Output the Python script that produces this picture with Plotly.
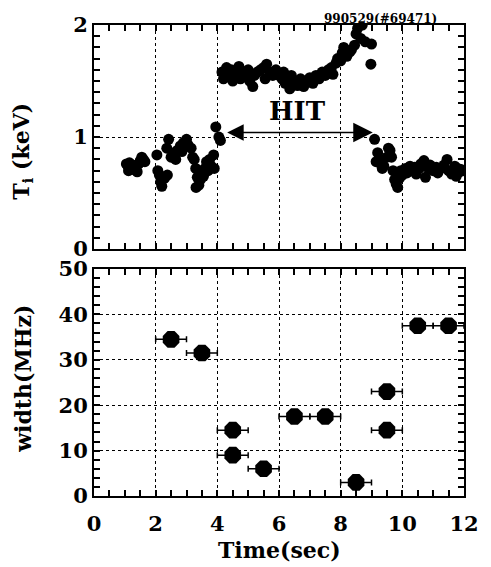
import plotly.graph_objects as go

# ---- Top panel: ion temperature T_i (keV) vs time (sec) ----
ti_time = [
    1.05, 1.10, 1.12, 1.15, 1.20, 1.25, 1.30, 1.35, 1.40, 1.45, 1.50, 1.55, 1.60, 1.65,
    2.04, 2.07, 2.12, 2.16, 2.20, 2.28, 2.38,
    2.42, 2.36, 2.50, 2.60, 2.65, 2.70, 2.80, 2.85, 2.90, 3.00, 3.05, 3.15, 3.20,
    3.25, 3.30, 3.31, 3.35, 3.40, 3.45, 3.50, 3.55, 3.60, 3.65, 3.70, 3.75, 3.80, 3.88, 3.90,
    3.95, 4.05, 4.10,
    4.15, 4.20, 4.30, 4.35, 4.45, 4.50, 4.60, 4.70, 4.75, 4.80, 4.90, 5.00, 5.05, 5.15, 5.20,
    5.30, 5.40, 5.50, 5.55, 5.60, 5.70, 5.80, 5.90, 6.00, 6.10, 6.15, 6.20, 6.30, 6.35, 6.40,
    6.50, 6.60, 6.70, 6.80, 6.90, 7.00, 7.10, 7.20, 7.30, 7.40, 7.50, 7.60, 7.70, 7.75, 7.85,
    7.90, 8.00, 8.05, 8.10, 8.20, 8.30, 8.35, 8.45, 8.50, 8.55, 8.65, 8.70, 8.80, 9.00, 8.98,
    9.10, 9.15, 9.20, 9.25, 9.30, 9.35, 9.40, 9.50, 9.55, 9.60, 9.65, 9.70, 9.75, 9.80, 9.85, 9.90,
    9.95, 10.00, 10.10, 10.15, 10.25, 10.30, 10.40, 10.45, 10.55, 10.60, 10.70, 10.75, 10.85,
    10.90, 11.00, 11.10, 11.15, 11.25, 11.35, 11.45, 11.50, 11.60, 11.70, 11.75, 11.80, 11.85,
    11.90, 11.95,
]
ti_kev = [
    0.76, 0.74, 0.70, 0.77, 0.72, 0.75, 0.71, 0.74, 0.69, 0.76, 0.79, 0.82, 0.80, 0.78,
    0.84, 0.70, 0.66, 0.60, 0.56, 0.63, 0.66,
    0.98, 0.90, 0.82, 0.86, 0.80, 0.88, 0.92, 0.87, 0.95, 0.98, 0.93, 0.90, 0.82,
    0.80, 0.72, 0.55, 0.64, 0.57, 0.62, 0.70, 0.65, 0.72, 0.78, 0.70, 0.80, 0.74, 0.84, 0.72,
    1.09, 1.00, 0.97,
    1.58, 1.52, 1.62, 1.55, 1.60, 1.50, 1.56, 1.63, 1.52, 1.58, 1.55, 1.60, 1.50, 1.45, 1.55,
    1.58, 1.60, 1.62, 1.52, 1.65, 1.58, 1.55, 1.60, 1.55, 1.52, 1.58, 1.48, 1.50, 1.43, 1.55,
    1.50, 1.46, 1.52, 1.45, 1.50, 1.53, 1.48, 1.55, 1.52, 1.58, 1.55, 1.60, 1.62, 1.56, 1.66,
    1.70, 1.68, 1.75, 1.80, 1.72, 1.76, 1.78, 1.82, 1.92, 1.97, 1.88, 2.00, 1.85, 1.83, 1.65,
    0.98, 0.78, 0.86, 0.80, 0.76, 0.72, 0.74, 0.82, 0.90, 0.88, 0.82, 0.70, 0.62, 0.58, 0.55, 0.63,
    0.70, 0.66, 0.72, 0.68, 0.74, 0.70, 0.73, 0.67, 0.72, 0.76, 0.79, 0.64, 0.72,
    0.75, 0.70, 0.73, 0.68, 0.72, 0.75, 0.80, 0.70, 0.67, 0.74, 0.65, 0.72, 0.69,
    0.71, 0.70,
]

# ---- Bottom panel: width (MHz) vs time (sec), with time-window error bars ----
w_time = [2.5, 3.5, 4.5, 4.5, 5.5, 6.5, 7.5, 8.5, 9.5, 9.5, 10.5, 11.5]
w_mhz = [34.5, 31.5, 14.5, 9.0, 6.0, 17.5, 17.5, 3.0, 23.0, 14.5, 37.5, 37.5]
w_dt = [0.5, 0.5, 0.5, 0.5, 0.5, 0.5, 0.5, 0.5, 0.5, 0.5, 0.5, 0.5]

x_ticks = [0, 2, 4, 6, 8, 10, 12]
ti_ticks = [0, 1, 2]
w_ticks = [0, 10, 20, 30, 40, 50]

FONT = "DejaVu Serif"
tickfont = dict(family=FONT, size=21, color="black", weight="bold")

fig = go.Figure()
fig.add_trace(go.Scatter(
    x=ti_time, y=ti_kev, mode="markers", xaxis="x", yaxis="y",
    marker=dict(symbol="circle", size=11, color="black"), showlegend=False,
))
fig.add_trace(go.Scatter(
    x=w_time, y=w_mhz, mode="markers", xaxis="x2", yaxis="y2",
    marker=dict(symbol="octagon", size=18, color="black"),
    error_x=dict(type="data", array=w_dt, visible=True, color="black", thickness=1.5, width=3),
    showlegend=False,
))

common = dict(
    showline=True, linecolor="black", linewidth=2, mirror="ticks",
    ticks="inside", ticklen=6, tickwidth=1.5, tickcolor="black",
    showgrid=True, gridcolor="black", gridwidth=1, griddash="dot",
    zeroline=False, tickfont=tickfont,
)

fig.update_layout(
    width=491, height=567, autosize=False,
    margin=dict(l=94, r=20, t=23, b=71),
    paper_bgcolor="white", plot_bgcolor="white",
    xaxis=dict(common, domain=[0, 1], anchor="y", range=[0, 12], tickvals=x_ticks,
               showticklabels=False,
               minor=dict(ticks="inside", dtick=0.5, ticklen=6, tickwidth=1.5, tickcolor="black", showgrid=False)),
    yaxis=dict(common, domain=[0.5243, 1], anchor="x", range=[0, 2], tickvals=ti_ticks,
               minor=dict(ticks="inside", dtick=0.1, ticklen=6, tickwidth=1.5, tickcolor="black", showgrid=False)),
    xaxis2=dict(common, domain=[0, 1], anchor="y2", range=[0, 12], tickvals=x_ticks,
                ticklabelstandoff=8,
                minor=dict(ticks="inside", dtick=0.5, ticklen=6, tickwidth=1.5, tickcolor="black", showgrid=False)),
    yaxis2=dict(common, domain=[0, 0.482], anchor="x2", range=[0, 50], tickvals=w_ticks,
                minor=dict(ticks="inside", dtick=2, ticklen=6, tickwidth=1.5, tickcolor="black", showgrid=False)),
    annotations=[
        dict(text="990529(#69471)", xref="paper", yref="paper", x=0.775, y=1.0127,
             showarrow=False, xanchor="center", yanchor="middle",
             font=dict(family=FONT, size=12, color="black", weight="bold")),
        dict(text="HIT", xref="x", yref="y", x=6.59, y=1.23, showarrow=False,
             xanchor="center", yanchor="middle",
             font=dict(family=FONT, size=26, color="black", weight="bold")),
        dict(text="", xref="x", yref="y", x=9.04, y=1.04, ax=4.27, ay=1.04,
             axref="x", ayref="y", showarrow=True, arrowhead=2, startarrowhead=2,
             arrowside="end+start", arrowsize=2.6, startarrowsize=2.2, arrowwidth=1.5,
             arrowcolor="black", standoff=0, startstandoff=0),
        dict(text="T<sub>i</sub> (keV)", xref="paper", yref="paper", x=-0.191, y=0.7315,
             textangle=-90, showarrow=False, xanchor="center", yanchor="middle",
             font=dict(family=FONT, size=22, color="black", weight="bold")),
        dict(text="width(MHz)", xref="paper", yref="paper", x=-0.191, y=0.2495,
             textangle=-90, showarrow=False, xanchor="center", yanchor="middle",
             font=dict(family=FONT, size=22, color="black", weight="bold")),
        dict(text="Time(sec)", xref="paper", yref="paper", x=0.5, y=-0.114,
             showarrow=False, xanchor="center", yanchor="middle",
             font=dict(family=FONT, size=22, color="black", weight="bold")),
    ],
)

fig.write_html("out.html")
